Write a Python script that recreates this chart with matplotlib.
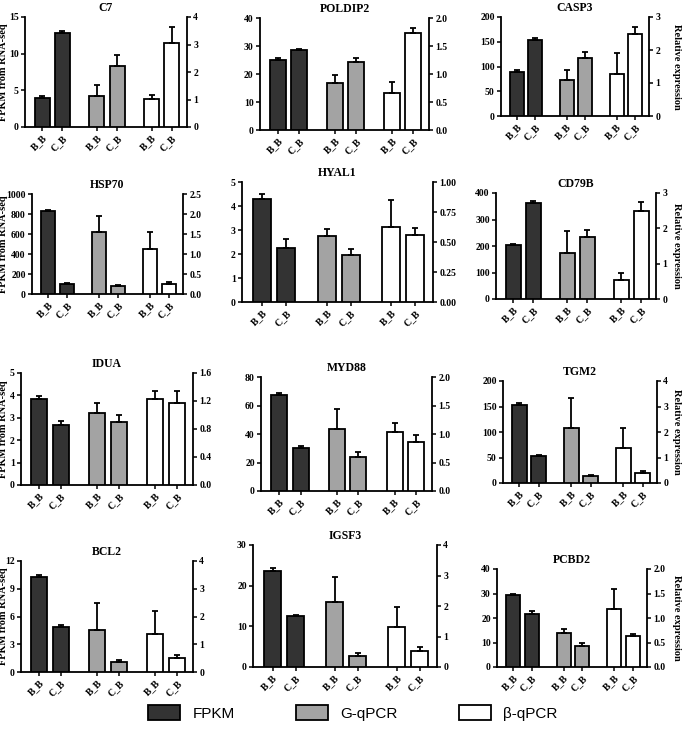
import matplotlib
matplotlib.use('Agg')
import matplotlib.pyplot as plt
from matplotlib.patches import Patch

genes = ["C7", "POLDIP2", "CASP3", "HSP70", "HYAL1", "CD79B",
         "IDUA", "MYD88", "TGM2", "BCL2", "IGSF3", "PCBD2"]
samples = ["B_B", "C_B"]
series_names = ["FPKM", "G-qPCR", "β-qPCR"]

fpkm_mean = [[4.0, 12.8], [25.0, 28.5], [89, 154], [830, 100], [4.28, 2.27], [202, 363],
             [3.85, 2.7], [67.5, 30.5], [153, 52], [10.3, 4.9], [23.5, 12.5], [29.2, 21.5]]
fpkm_err = [[0.2, 0.3], [0.6, 0.5], [4, 3], [12, 8], [0.2, 0.35], [7, 5],
            [0.13, 0.17], [1.5, 0.8], [4, 2], [0.15, 0.15], [0.8, 0.3], [0.6, 1.3]]
gq_mean = [[1.12, 2.21], [0.84, 1.215], [1.08, 1.77], [1.56, 0.2], [0.55, 0.39], [1.31, 1.76],
           [1.024, 0.896], [1.09, 0.6], [2.16, 0.26], [1.52, 0.35], [2.13, 0.36], [0.69, 0.435]]
gq_err = [[0.4, 0.4], [0.135, 0.075], [0.3, 0.16], [0.4, 0.03], [0.06, 0.05], [0.62, 0.19],
          [0.15, 0.105], [0.35, 0.09], [1.16, 0.06], [0.97, 0.08], [0.83, 0.09], [0.085, 0.055]]
bq_mean = [[1.01, 3.07], [0.66, 1.725], [1.27, 2.5], [1.12, 0.25], [0.625, 0.555], [0.525, 2.49],
           [1.23, 1.17], [1.03, 0.86], [1.36, 0.38], [1.37, 0.52], [1.31, 0.52], [1.175, 0.625]]
bq_err = [[0.14, 0.58], [0.19, 0.09], [0.65, 0.2], [0.42, 0.04], [0.225, 0.065], [0.225, 0.25],
          [0.12, 0.17], [0.17, 0.13], [0.78, 0.08], [0.82, 0.1], [0.67, 0.12], [0.425, 0.055]]

left_ticks = [[0, 5, 10, 15], [0, 10, 20, 30, 40], [0, 50, 100, 150, 200],
              [0, 200, 400, 600, 800, 1000], [0, 1, 2, 3, 4, 5], [0, 100, 200, 300, 400],
              [0, 1, 2, 3, 4, 5], [0, 20, 40, 60, 80], [0, 50, 100, 150, 200],
              [0, 3, 6, 9, 12], [0, 10, 20, 30], [0, 10, 20, 30, 40]]
right_ticks = [[0, 1, 2, 3, 4], [0, 0.5, 1, 1.5, 2], [0, 1, 2, 3], [0, 0.5, 1, 1.5, 2, 2.5],
               [0, 0.25, 0.5, 0.75, 1], [0, 1, 2, 3], [0, 0.4, 0.8, 1.2, 1.6],
               [0, 0.5, 1, 1.5, 2], [0, 1, 2, 3, 4], [0, 1, 2, 3, 4], [0, 1, 2, 3, 4],
               [0, 0.5, 1, 1.5, 2]]
right_decimals = [0, 1, 0, 1, 2, 0, 1, 1, 0, 0, 0, 1]

# axes boxes in pixels: left, top, right, bottom
boxes = [(25, 17, 187, 127), (260, 18, 429, 130), (501, 17, 649, 116),
         (32, 194, 183, 294), (242, 182, 433, 302), (496, 193, 656, 299),
         (21, 373, 193, 485), (261, 377, 432, 491), (503, 381, 657, 483),
         (21, 561, 193, 672), (253, 545, 437, 667), (497, 569, 647, 667)]

W, H = 685, 734
fig = plt.figure(figsize=(W / 100, H / 100), dpi=100)
serif = 'Liberation Serif'
colors = ['#333333', '#a3a3a3', '#ffffff']
pos = [[0, 1], [2.7, 3.7], [5.4, 6.4]]
bw = 0.75
lw = 1.3
tfs = 7

for i, g in enumerate(genes):
    l, t, r, b = boxes[i]
    ax = fig.add_axes([l / W, 1 - b / H, (r - l) / W, (b - t) / H])
    ax2 = ax.twinx()
    ekw = dict(elinewidth=lw, capthick=lw, ecolor='black')
    ax.bar(pos[0], fpkm_mean[i], bw, color=colors[0], edgecolor='black', linewidth=lw,
           yerr=[[0, 0], fpkm_err[i]], capsize=2.5, error_kw=ekw, zorder=3)
    ax2.bar(pos[1], gq_mean[i], bw, color=colors[1], edgecolor='black', linewidth=lw,
            yerr=[[0, 0], gq_err[i]], capsize=2.5, error_kw=ekw, zorder=3)
    ax2.bar(pos[2], bq_mean[i], bw, color=colors[2], edgecolor='black', linewidth=lw,
            yerr=[[0, 0], bq_err[i]], capsize=2.5, error_kw=ekw, zorder=3)
    ax.set_xlim(-0.85, 7.15)
    lt = left_ticks[i]
    rt = right_ticks[i]
    ax.set_ylim(0, lt[-1])
    ax2.set_ylim(0, rt[-1])
    ax.set_yticks(lt)
    ax.set_yticklabels([str(v) for v in lt], fontfamily=serif, fontweight='bold', fontsize=tfs)
    ax2.set_yticks(rt)
    ax2.set_yticklabels([f"{v:.{right_decimals[i]}f}" for v in rt],
                        fontfamily=serif, fontweight='bold', fontsize=tfs)
    xt = pos[0] + pos[1] + pos[2]
    ax.set_xticks(xt)
    ax.set_xticklabels(samples * 3, rotation=45, ha='right', rotation_mode='anchor',
                       fontfamily=serif, fontweight='bold', fontsize=tfs)
    for a in (ax, ax2):
        a.spines['top'].set_visible(False)
        for s in ('left', 'right', 'bottom'):
            a.spines[s].set_linewidth(1.3)
        a.tick_params(width=1.1, length=3, pad=1.5)
    ax.spines['right'].set_visible(False)
    ax2.spines['left'].set_visible(False)
    ax2.spines['bottom'].set_visible(False)
    ax.set_title(g, fontfamily=serif, fontweight='bold', fontsize=8.5, pad=4)
    if i % 3 == 0:
        ax.set_ylabel("FPKM from RNA-seq", fontfamily=serif, fontweight='bold', fontsize=7.5)
        ax.yaxis.set_label_coords((8 - l) / (r - l), 0.5)
    if i % 3 == 2:
        ax2.set_ylabel("Relative expression", fontfamily=serif, fontweight='bold', fontsize=7.5,
                       rotation=270, va='center')
        ax2.yaxis.set_label_coords((677 - l) / (r - l), 0.5)

handles = [Patch(facecolor=c, edgecolor='black', linewidth=1.3) for c in colors]
fig.legend(handles, series_names, loc='center', bbox_to_anchor=(0.515, 1 - 713 / H), ncol=3,
           frameon=False, prop={'family': 'Liberation Sans', 'size': 11},
           handlelength=2.1, handleheight=1.1, handletextpad=0.8, columnspacing=4.0)

fig.savefig('out.png', dpi=100)
